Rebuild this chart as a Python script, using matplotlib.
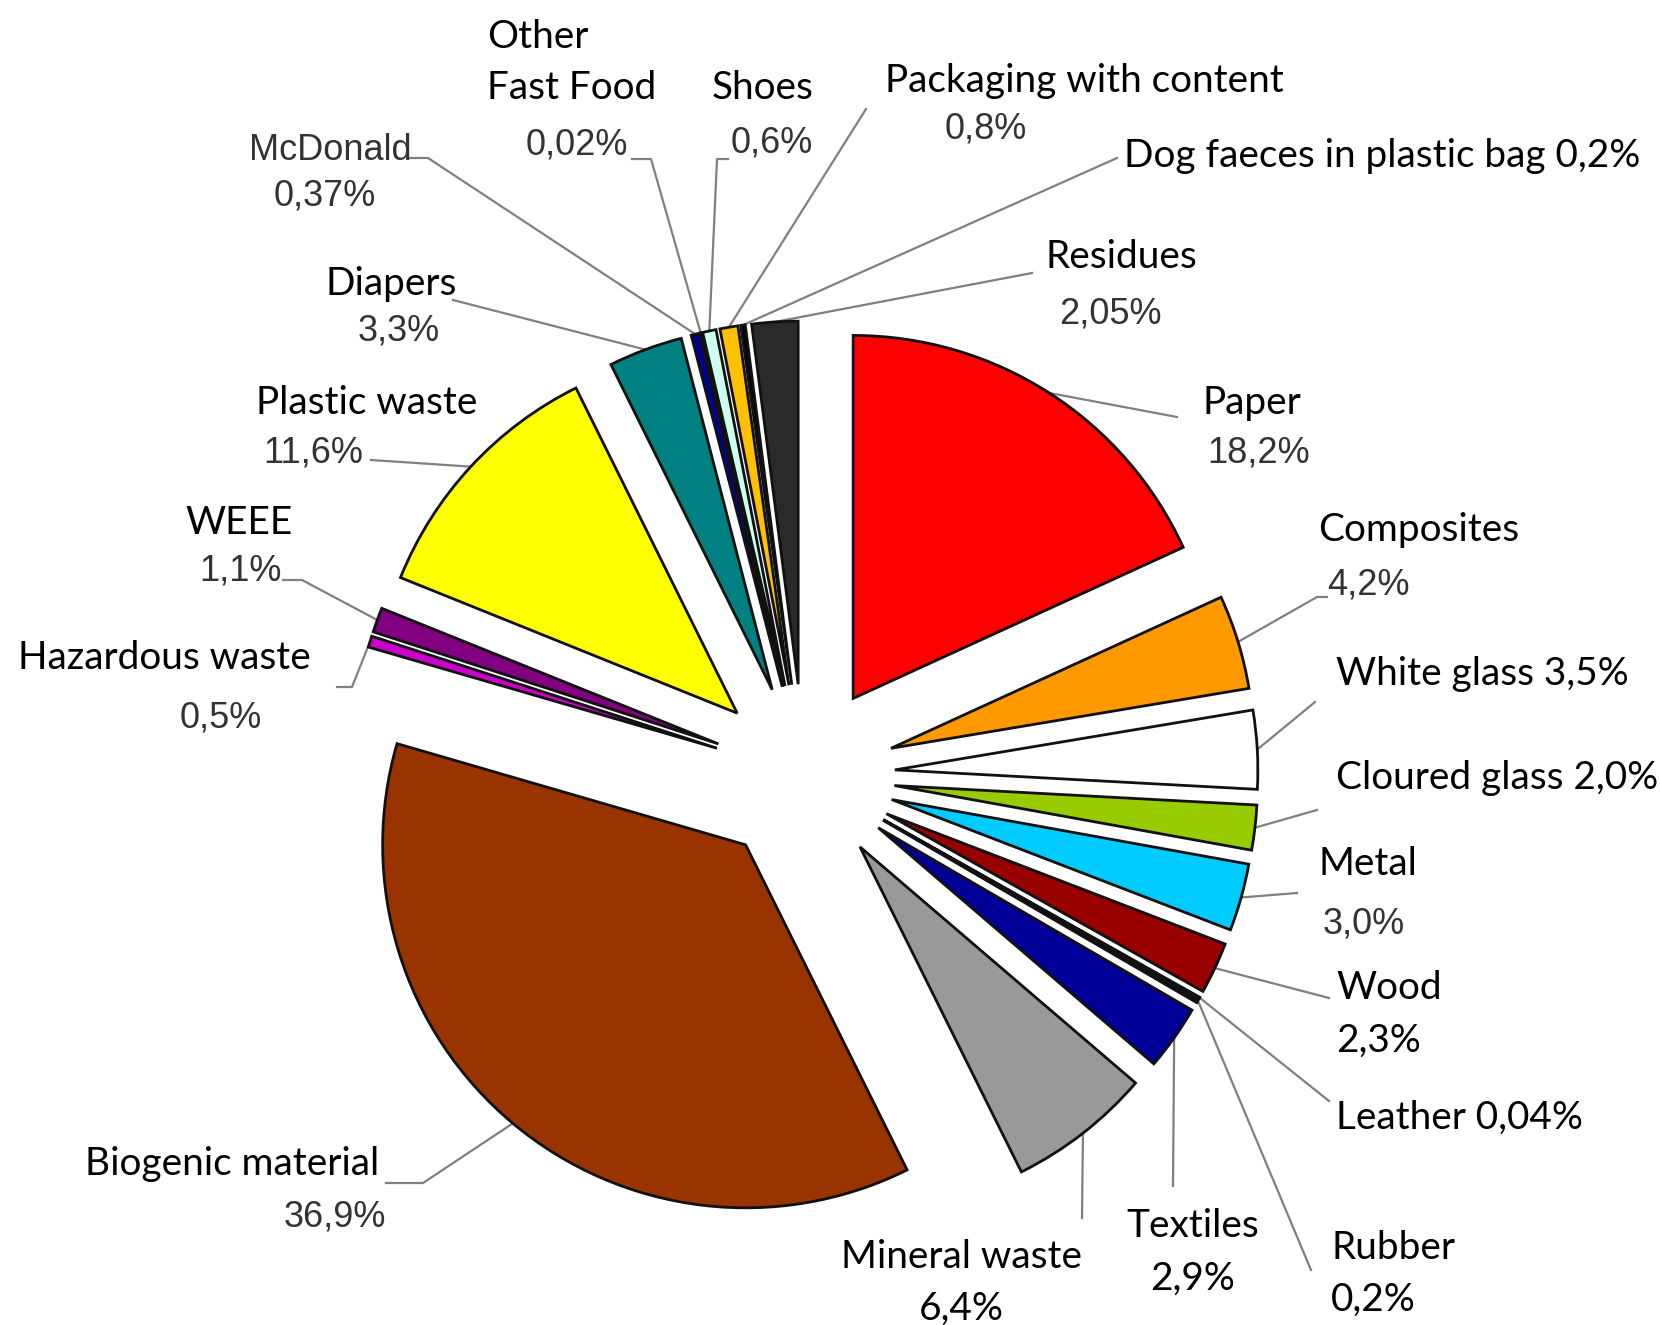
import matplotlib
matplotlib.use("Agg")
import matplotlib.pyplot as plt
import numpy as np

# Daten: Anteile der Abfallfraktionen (im Uhrzeigersinn ab 12 Uhr)
categories = ["Paper", "Composites", "White glass", "Cloured glass", "Metal", "Wood",
              "Leather", "Rubber", "Textiles", "Mineral waste", "Biogenic material",
              "Hazardous waste", "WEEE", "Plastic waste", "Diapers", "McDonald",
              "Other Fast Food", "Shoes", "Packaging with content",
              "Dog faeces in plastic bag", "Residues"]
shares = [18.2, 4.2, 3.5, 2.0, 3.0, 2.3, 0.04, 0.2, 2.9, 6.4, 36.9,
          0.5, 1.1, 11.6, 3.3, 0.37, 0.02, 0.6, 0.8, 0.2, 2.05]
share_labels = ["18,2%", "4,2%", "3,5%", "2,0%", "3,0%", "2,3%", "0,04%", "0,2%",
                "2,9%", "6,4%", "36,9%", "0,5%", "1,1%", "11,6%", "3,3%", "0,37%",
                "0,02%", "0,6%", "0,8%", "0,2%", "2,05%"]
colors = ["#ff0000", "#ff9900", "#ffffff", "#99cc00", "#00ccff", "#990000",
          "#000000", "#111111", "#000099", "#999999", "#993300",
          "#cc00cc", "#800080", "#ffff00", "#008080", "#000099",
          "#ffffff", "#ccffee", "#ffc000", "#000000", "#2a2a2a"]

NAME_FONT = "Lato"
PCT_FONT = "Liberation Sans"
PCT_COLOR = "#333333"
LINE_COLOR = "#808080"

W, H = 1660, 1325
fig = plt.figure(figsize=(W / 100, H / 100), dpi=100)
ax = fig.add_axes([0, 0, 1, 1])

# Schriftgroesse an die Breite im Original anpassen
renderer = fig.canvas.get_renderer()
probe = fig.text(0, 0, "Dog faeces in plastic bag 0,2%", family=NAME_FONT, size=30)
name_size = 30 * 515 / probe.get_window_extent(renderer).width
probe.remove()
pct_size = 26

wedges, _ = ax.pie(shares, colors=colors, explode=[91] * len(shares), radius=363,
                   center=(804, 775), startangle=-90, counterclock=True,
                   wedgeprops=dict(edgecolor="#111111", linewidth=2.0))
ax.set_xlim(0, W)
ax.set_ylim(H, 0)
ax.set_aspect("equal")
ax.axis("off")


def n(i):
    return categories[i]


def p(i):
    return share_labels[i]


# (Texte, Knickpunkte der Fuehrungslinie) je Segment
# Text: (string, x, y, art, ausrichtung)  art: 'n' = Name, 'p' = Prozent grau
layout = [
    ([(n(0), 1202, 403, 'n', 'left'), (p(0), 1207, 453, 'p', 'left')], [(1177, 417)]),
    ([(n(1), 1318, 530, 'n', 'left'), (p(1), 1327, 585, 'p', 'left')], [(1317, 597), (1327, 597)]),
    ([(n(2) + " " + p(2), 1336, 674, 'n', 'left')], [(1315, 702)]),
    ([(n(3) + " " + p(3), 1336, 778, 'n', 'left')], [(1317, 810)]),
    ([(n(4), 1318, 864, 'n', 'left'), (p(4), 1323, 924, 'p', 'left')], [(1297, 893)]),
    ([(n(5), 1336, 988, 'n', 'left'), (p(5), 1336, 1041, 'n', 'left')], [(1329, 998)]),
    ([(n(6) + " " + p(6), 1336, 1118, 'n', 'left')], [(1329, 1101)]),
    ([(n(7), 1331, 1248, 'n', 'left'), (p(7), 1331, 1300, 'n', 'left')], [(1311, 1270)]),
    ([(n(8), 1193, 1226, 'n', 'center'), (p(8), 1193, 1279, 'n', 'center')], [(1173, 1186)]),
    ([(n(9), 961, 1257, 'n', 'center'), (p(9), 961, 1309, 'n', 'center')], [(1082, 1218)]),
    ([(n(10), 85, 1164, 'n', 'left'), (p(10), 284, 1217, 'p', 'left')], [(423, 1183), (386, 1183)]),
    ([(n(11), 18, 658, 'n', 'left'), (p(11), 180, 718, 'p', 'left')], [(352, 687), (337, 687)]),
    ([(n(12), 185, 523, 'n', 'left'), (p(12), 199, 571, 'p', 'left')], [(302, 580), (283, 580)]),
    ([(n(13), 256, 403, 'n', 'left'), (p(13), 263, 453, 'p', 'left')], [(371, 460)]),
    ([(n(14), 325, 284, 'n', 'left'), (p(14), 358, 331, 'p', 'left')], [(453, 300)]),
    ([(n(15), 249, 151, 'p', 'left'), (p(15), 274, 196, 'p', 'left')], [(428, 158), (410, 158)]),
    ([("Other", 487, 37, 'n', 'left'), ("Fast Food", 487, 88, 'n', 'left'),
      (p(16), 526, 145, 'p', 'left')], [(651, 159), (632, 159)]),
    ([(n(17), 712, 88, 'n', 'left'), (p(17), 731, 143, 'p', 'left')], [(717, 159), (728, 159)]),
    ([(n(18), 885, 81, 'n', 'left'), (p(18), 945, 129, 'p', 'left')], [(866, 109)]),
    ([(n(19) + " " + p(19), 1124, 156, 'n', 'left')], [(1117, 158)]),
    ([(n(20), 1045, 257, 'n', 'left'), (p(20), 1059, 314, 'p', 'left')], [(1032, 273)]),
]

for w, (texts, path) in zip(wedges, layout):
    mid = np.deg2rad((w.theta1 + w.theta2) / 2)
    start = (w.center[0] + w.r * np.cos(mid), w.center[1] + w.r * np.sin(mid))
    xs = [start[0]] + [pt[0] for pt in path]
    ys = [start[1]] + [pt[1] for pt in path]
    ax.plot(xs, ys, color=LINE_COLOR, lw=1.6, zorder=0)
    for s, x, y, kind, ha in texts:
        if kind == 'n':
            ax.text(x, y, s, family=NAME_FONT, size=name_size, color="black",
                    ha=ha, va="center")
        else:
            ax.text(x, y, s, family=PCT_FONT, size=pct_size, color=PCT_COLOR,
                    ha=ha, va="center")

fig.savefig("out.png", dpi=100, facecolor="white")
